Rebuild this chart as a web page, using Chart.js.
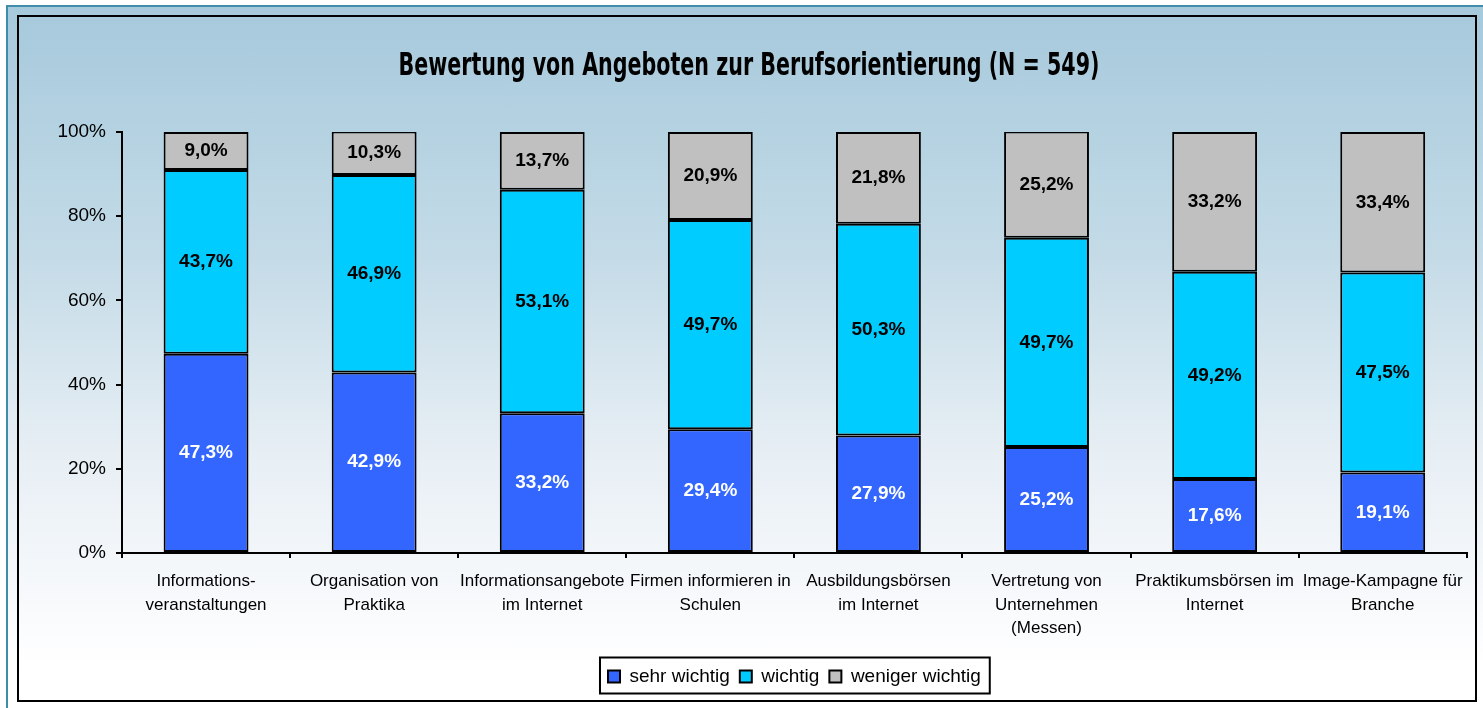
<!DOCTYPE html>
<html>
<head>
<meta charset="utf-8">
<script src="https://cdn.jsdelivr.net/npm/chart.js@4.4.1/dist/chart.umd.min.js"></script>
<style>
  html, body { margin: 0; padding: 0; background: #fff; overflow: hidden; }
  #outer {
    position: absolute; left: 6px; top: 5px; width: 1500px; height: 720px;
    border-top: 2px solid #3f8cab; border-left: 2px solid #3f8cab;
    background: linear-gradient(to bottom, #a6c9dc 0px, #c4dbe7 250px, #e6eef4 440px, #f8fafc 600px, #ffffff 660px);
  }
  #frame {
    position: absolute; left: 17px; top: 15px; width: 1456px; height: 683px;
    border: 2px solid #000;
  }
  canvas { display: block; }
</style>
</head>
<body>
<div id="outer"></div>
<div id="frame"><canvas id="chart" width="1456" height="683"></canvas></div>
<script>
  const categories = [
    ["Informations-", "veranstaltungen"],
    ["Organisation von", "Praktika"],
    ["Informationsangebote", "im Internet"],
    ["Firmen informieren in", "Schulen"],
    ["Ausbildungsbörsen", "im Internet"],
    ["Vertretung von", "Unternehmen", "(Messen)"],
    ["Praktikumsbörsen im", "Internet"],
    ["Image-Kampagne für", "Branche"]
  ];
  const sehrWichtig = [47.3, 42.9, 33.2, 29.4, 27.9, 25.2, 17.6, 19.1];
  const wichtig = [43.7, 46.9, 53.1, 49.7, 50.3, 49.7, 49.2, 47.5];
  const wenigerWichtig = [9.0, 10.3, 13.7, 20.9, 21.8, 25.2, 33.2, 33.4];
  const yTicks = [0, 20, 40, 60, 80, 100];
  const titleText = "Bewertung von Angeboten zur Berufsorientierung (N = 549)";

  Chart.defaults.font.family = "'Liberation Sans', Arial, sans-serif";
  Chart.defaults.color = "#000";

  // value labels in the middle of each segment
  const segmentLabels = {
    id: "segmentLabels",
    afterDatasetsDraw(chart) {
      const ctx = chart.ctx;
      ctx.save();
      ctx.font = "bold 19px 'Liberation Sans', Arial, sans-serif";
      ctx.textAlign = "center";
      ctx.textBaseline = "middle";
      chart.data.datasets.forEach((ds, i) => {
        const meta = chart.getDatasetMeta(i);
        ctx.fillStyle = i === 0 ? "#fff" : "#000";
        meta.data.forEach((bar, j) => {
          const txt = ds.data[j].toFixed(1).replace(".", ",") + "%";
          ctx.fillText(txt, bar.x, (bar.y + bar.base) / 2);
        });
      });
      ctx.restore();
    }
  };

  // narrow bold title (the original uses a condensed face)
  const narrowTitle = {
    id: "narrowTitle",
    afterDraw(chart) {
      const ctx = chart.ctx;
      ctx.save();
      ctx.font = "bold 32px 'DejaVu Sans Condensed', 'DejaVu Sans', sans-serif";
      ctx.fillStyle = "#000";
      ctx.textBaseline = "alphabetic";
      ctx.textAlign = "center";
      const w = ctx.measureText(titleText).width;
      ctx.translate(730, 58);
      ctx.scale(701 / w, 1);
      ctx.fillText(titleText, 0, 0);
      ctx.restore();
    }
  };

  // frame around the legend
  const legendFrame = {
    id: "legendFrame",
    afterDraw(chart) {
      const boxes = chart.legend.legendHitBoxes;
      if (!boxes || !boxes.length) return;
      const left = Math.min(...boxes.map(b => b.left)) - 8;
      const right = Math.max(...boxes.map(b => b.left + b.width)) + 9;
      const mid = boxes[0].top + boxes[0].height / 2;
      const ctx = chart.ctx;
      ctx.save();
      ctx.strokeStyle = "#000";
      ctx.lineWidth = 2;
      ctx.strokeRect(left, mid - 19, right - left, 36);
      ctx.restore();
    }
  };

  new Chart(document.getElementById("chart"), {
    type: "bar",
    data: {
      labels: categories,
      datasets: [
        { label: "sehr wichtig", data: sehrWichtig, backgroundColor: "#3366ff" },
        { label: "wichtig", data: wichtig, backgroundColor: "#00ccff" },
        { label: "weniger wichtig", data: wenigerWichtig, backgroundColor: "#c0c0c0" }
      ].map(d => Object.assign(d, {
        borderColor: "#000",
        borderWidth: 2,
        borderSkipped: false,
        barPercentage: 0.505,
        categoryPercentage: 1
      }))
    },
    options: {
      responsive: false,
      animation: false,
      devicePixelRatio: 1,
      layout: { padding: { left: 0, right: 7, top: 0, bottom: 4 } },
      plugins: {
        title: {
          display: true,
          text: titleText,
          color: "rgba(0,0,0,0)",
          font: { size: 30, weight: "bold", lineHeight: 1.2 },
          padding: { top: 28, bottom: 51 }
        },
        legend: {
          position: "bottom",
          fullSize: false,
          labels: {
            font: { size: 19 },
            boxWidth: 12,
            boxHeight: 12,
            padding: 10
          }
        },
        tooltip: { enabled: false }
      },
      scales: {
        x: {
          stacked: true,
          grid: { offset: true, drawOnChartArea: false, color: "#000", lineWidth: 2, tickLength: 5 },
          border: { color: "#000", width: 2 },
          ticks: { font: { size: 17, lineHeight: 1.38 }, padding: 12, maxRotation: 0, minRotation: 0, autoSkip: false },
          afterFit(scale) { scale.height = 104; }
        },
        y: {
          stacked: true,
          min: 0,
          max: 100,
          afterBuildTicks(scale) { scale.ticks = yTicks.map(v => ({ value: v })); },
          grid: { drawOnChartArea: false, color: "#000", lineWidth: 2, tickLength: 6 },
          border: { color: "#000", width: 2 },
          ticks: { font: { size: 19 }, padding: 10, callback: v => v + "%" },
          afterFit(scale) { scale.width = 103; }
        }
      }
    },
    plugins: [segmentLabels, narrowTitle, legendFrame]
  });
</script>
</body>
</html>
